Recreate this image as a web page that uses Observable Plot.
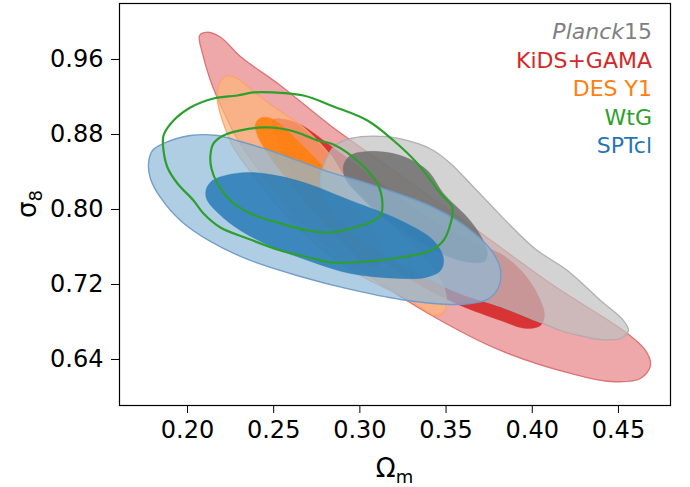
<!DOCTYPE html>
<html><head><meta charset="utf-8">
<script src="https://cdn.jsdelivr.net/npm/d3@7"></script>
<script src="https://cdn.jsdelivr.net/npm/@observablehq/plot@0.6"></script>
<style>body{margin:0;background:#fff;}</style>
</head><body><div id="chart"></div>
<script>
const xTicks = [0.20, 0.25, 0.30, 0.35, 0.40, 0.45];
const yTicks = [0.64, 0.72, 0.80, 0.88, 0.96];
const seriesNames = ["Planck15", "KiDS+GAMA", "DES Y1", "WtG", "SPTcl"];
const seriesColors = ["#7f7f7f", "#d62728", "#ff7f0e", "#2ca02c", "#1f77b4"];

// contour vertices [Omega_m, sigma_8]
const kidsOuter = [[0.2070,0.9856],[0.2110,0.9890],[0.2190,0.9840],[0.2307,0.9632],[0.2539,0.9323],[0.2829,0.8896],[0.3236,0.8363],[0.3642,0.7829],[0.4106,0.7211],[0.4552,0.6677],[0.4657,0.6496],[0.4686,0.6336],[0.4628,0.6197],[0.4454,0.6165],[0.4222,0.6251],[0.3816,0.6496],[0.3468,0.6816],[0.3119,0.7211],[0.2829,0.7595],[0.2655,0.7883],[0.2464,0.8309],[0.2365,0.8544],[0.2278,0.8789],[0.2180,0.9163],[0.2133,0.9376],[0.2087,0.9664]];
const kidsInner = [[0.2499,0.8960],[0.2568,0.8960],[0.2655,0.8907],[0.2829,0.8683],[0.3119,0.8288],[0.3352,0.7968],[0.3642,0.7669],[0.3833,0.7509],[0.3961,0.7296],[0.4048,0.7029],[0.4071,0.6869],[0.4048,0.6763],[0.3961,0.6731],[0.3816,0.6816],[0.3584,0.6976],[0.3352,0.7189],[0.3061,0.7541],[0.2829,0.7904],[0.2655,0.8256],[0.2557,0.8576],[0.2505,0.8821]];
const desOuter = [[0.2220,0.9419],[0.2290,0.9397],[0.2348,0.9312],[0.2499,0.9099],[0.2673,0.8875],[0.2829,0.8576],[0.2916,0.8331],[0.3137,0.7915],[0.3334,0.7563],[0.3468,0.7243],[0.3502,0.7029],[0.3485,0.6901],[0.3439,0.6869],[0.3352,0.6955],[0.3236,0.7083],[0.3003,0.7296],[0.2789,0.7563],[0.2597,0.7883],[0.2406,0.8309],[0.2267,0.8661],[0.2203,0.8949],[0.2174,0.9163],[0.2180,0.9323]];
const desInner = [[0.2418,0.8971],[0.2470,0.8981],[0.2539,0.8907],[0.2638,0.8736],[0.2771,0.8491],[0.2945,0.8117],[0.3073,0.7776],[0.3131,0.7541],[0.3119,0.7413],[0.3050,0.7403],[0.2916,0.7616],[0.2742,0.7957],[0.2597,0.8277],[0.2481,0.8555],[0.2406,0.8789],[0.2394,0.8907]];
const planckOuter = [[0.2771,0.8331],[0.2800,0.8523],[0.2858,0.8683],[0.2945,0.8757],[0.3137,0.8779],[0.3334,0.8704],[0.3427,0.8629],[0.3526,0.8491],[0.3717,0.8128],[0.4007,0.7595],[0.4204,0.7349],[0.4396,0.7029],[0.4529,0.6816],[0.4558,0.6709],[0.4512,0.6624],[0.4396,0.6613],[0.4297,0.6645],[0.4164,0.6709],[0.4048,0.6795],[0.3816,0.6965],[0.3584,0.7104],[0.3352,0.7296],[0.3119,0.7541],[0.2916,0.7829],[0.2800,0.8096]];
const planckInner = [[0.2905,0.8469],[0.2945,0.8576],[0.3044,0.8619],[0.3236,0.8576],[0.3392,0.8416],[0.3485,0.8171],[0.3624,0.7915],[0.3700,0.7723],[0.3740,0.7541],[0.3723,0.7445],[0.3642,0.7435],[0.3526,0.7488],[0.3334,0.7669],[0.3137,0.7915],[0.2986,0.8171],[0.2916,0.8331]];
const sptOuter = [[0.1774,0.8491],[0.1797,0.8629],[0.1861,0.8704],[0.2017,0.8789],[0.2174,0.8789],[0.2307,0.8725],[0.2441,0.8651],[0.2638,0.8523],[0.2829,0.8395],[0.3044,0.8277],[0.3427,0.8021],[0.3659,0.7755],[0.3775,0.7531],[0.3816,0.7349],[0.3804,0.7168],[0.3740,0.7040],[0.3642,0.6997],[0.3526,0.6987],[0.3236,0.7040],[0.2945,0.7147],[0.2655,0.7285],[0.2365,0.7456],[0.2133,0.7659],[0.1959,0.7883],[0.1843,0.8128],[0.1785,0.8331]];
const sptInner = [[0.2110,0.8224],[0.2145,0.8309],[0.2220,0.8363],[0.2365,0.8395],[0.2638,0.8309],[0.2945,0.8096],[0.3236,0.7883],[0.3427,0.7669],[0.3485,0.7477],[0.3468,0.7349],[0.3381,0.7275],[0.3236,0.7264],[0.2945,0.7317],[0.2731,0.7435],[0.2499,0.7595],[0.2307,0.7776],[0.2174,0.7968],[0.2110,0.8117]];
const wtgOuter = [[0.1861,0.8789],[0.1919,0.8949],[0.2017,0.9088],[0.2151,0.9184],[0.2290,0.9216],[0.2383,0.9248],[0.2499,0.9248],[0.2673,0.9216],[0.2847,0.9099],[0.3044,0.8949],[0.3195,0.8736],[0.3334,0.8491],[0.3468,0.8171],[0.3537,0.8021],[0.3526,0.7851],[0.3485,0.7669],[0.3410,0.7563],[0.3236,0.7488],[0.3044,0.7445],[0.2829,0.7435],[0.2731,0.7477],[0.2539,0.7563],[0.2348,0.7691],[0.2191,0.7808],[0.2093,0.7957],[0.2035,0.8096],[0.1942,0.8277],[0.1884,0.8448],[0.1861,0.8629]];
const wtgInner = [[0.2133,0.8576],[0.2151,0.8704],[0.2209,0.8789],[0.2307,0.8843],[0.2441,0.8875],[0.2539,0.8864],[0.2638,0.8821],[0.2754,0.8736],[0.2847,0.8693],[0.3003,0.8491],[0.3102,0.8277],[0.3131,0.8064],[0.3119,0.7936],[0.3044,0.7851],[0.2945,0.7797],[0.2829,0.7755],[0.2696,0.7776],[0.2539,0.7851],[0.2365,0.7957],[0.2249,0.8096],[0.2174,0.8277],[0.2139,0.8437]];

const curve = "catmull-rom-closed";
function filled(data, fill, fop, stroke, sw, sop) {
  return Plot.line(data, {curve, fill, fillOpacity: fop, stroke, strokeWidth: sw, strokeOpacity: sop});
}

const plot = Plot.plot({
  width: 690, height: 487,
  marginLeft: 119, marginRight: 20, marginTop: 3, marginBottom: 82,
  style: {fontFamily: "DejaVu Sans", fontSize: "24px", background: "white", color: "black"},
  x: {domain: [0.16056, 0.4802], ticks: xTicks, tickFormat: ".2f", tickSize: 8, tickPadding: 7, label: null},
  y: {domain: [0.5909, 1.0197], ticks: yTicks, tickFormat: ".2f", tickSize: 8, tickPadding: 8, label: null},
  marks: [
    filled(kidsOuter, "#e78386", 0.7, "#d9696a", 1.3, 0.9),
    filled(kidsInner, "#d62728", 0.9, "#d62728", 0.6, 0.5),
    filled(desOuter, "#feb577", 0.7, "#f9a26a", 1.3, 0.9),
    filled(desInner, "#ff7f0e", 0.9, "#ff7f0e", 0.6, 0.5),
    filled(planckOuter, "#c0c0c0", 0.7, "#aaaaaa", 1.3, 0.9),
    filled(planckInner, "#6f6f6f", 0.85, "#6f6f6f", 0.6, 0.5),
    filled(sptOuter, "#8eb9d7", 0.7, "#6f9bc8", 1.4, 0.95),
    filled(sptInner, "#1f77b4", 0.8, "#1f77b4", 0.6, 0.5),
    Plot.line(wtgOuter, {curve, stroke: "#2ca02c", strokeWidth: 2.2}),
    Plot.line(wtgInner, {curve, stroke: "#2ca02c", strokeWidth: 2.2}),
    Plot.frame({stroke: "black", strokeWidth: 1.2})
  ]
});
document.getElementById("chart").append(plot);

const svg = d3.select(plot);
// legend
const leg = svg.append("g").attr("font-family", "DejaVu Sans").attr("font-size", 22).attr("text-anchor", "end");
seriesNames.forEach((name, i) => {
  const t = leg.append("text").attr("x", 652).attr("y", 39 + i * 28.5).attr("fill", seriesColors[i]);
  if (name === "Planck15") {
    t.append("tspan").attr("font-style", "italic").text("Planck");
    t.append("tspan").text("15");
  } else t.text(name);
});
// axis labels
const xl = svg.append("text").attr("x", 394.5).attr("y", 477).attr("text-anchor", "middle")
  .attr("font-family", "DejaVu Sans").attr("font-size", 26);
xl.append("tspan").text("Ω");
xl.append("tspan").attr("font-size", 18).attr("dy", 6).text("m");
const yl = svg.append("text").attr("transform", "translate(36,204) rotate(-90)").attr("text-anchor", "middle")
  .attr("font-family", "DejaVu Sans").attr("font-size", 26);
yl.append("tspan").text("σ");
yl.append("tspan").attr("font-size", 18).attr("dy", 6).text("8");
</script>
</body></html>
